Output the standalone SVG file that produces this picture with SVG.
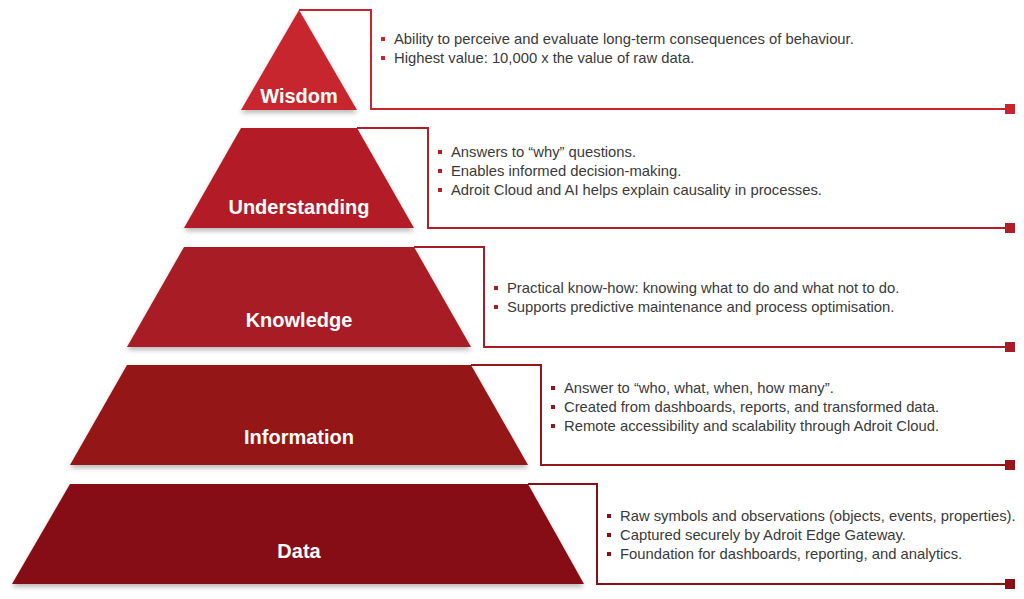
<svg xmlns="http://www.w3.org/2000/svg" width="1024" height="599" viewBox="0 0 1024 599">
<defs>
<filter id="sh" x="-10%" y="-10%" width="120%" height="130%">
<feDropShadow dx="0" dy="3" stdDeviation="2.5" flood-color="#000" flood-opacity="0.28"/>
</filter>
</defs>
<style>
.lbl{font-family:"Liberation Sans",Arial,sans-serif;font-weight:bold;font-size:20px;fill:#fff;text-anchor:middle}
.txt{font-family:"Liberation Sans",Arial,sans-serif;font-size:14.8px;fill:#3a3a3a}
.br{fill:none;stroke-width:2}
</style>
<rect width="1024" height="599" fill="#fff"/>
<g id="connectors">
<polyline class="br" stroke="#C8262F" points="299,10 371,10 371,109 1010,109"/>
<rect x="1005" y="104" width="10" height="10" fill="#C8262F"/>
<polyline class="br" stroke="#B31F27" points="357,128 428,128 428,228 1010,228"/>
<rect x="1005" y="223" width="10" height="10" fill="#B31F27"/>
<polyline class="br" stroke="#A81D25" points="414,247 484,247 484,347 1010,347"/>
<rect x="1005" y="342" width="10" height="10" fill="#A81D25"/>
<polyline class="br" stroke="#951719" points="471,365 541,365 541,465 1010,465"/>
<rect x="1005" y="460" width="10" height="10" fill="#951719"/>
<polyline class="br" stroke="#861015" points="528,484 597,484 597,584 1010,584"/>
<rect x="1005" y="579" width="10" height="10" fill="#861015"/>
</g>
<g id="wisdom">
<polygon points="299,10 357,110 241,110" fill="#C8262F" filter="url(#sh)"/>
<text class="lbl" x="299" y="103">Wisdom</text>
<g fill="#C8262F"><rect x="381" y="37" width="4" height="4"/><rect x="381" y="56" width="4" height="4"/></g>
<text class="txt" x="394" y="44">Ability to perceive and evaluate long-term consequences of behaviour.</text>
<text class="txt" x="394" y="63">Highest value: 10,000 x the value of raw data.</text>
</g>
<g id="understanding">
<polygon points="241,128 357,128 414,228 184,228" fill="#B31F27" filter="url(#sh)"/>
<text class="lbl" x="299" y="214">Understanding</text>
<g fill="#B31F27"><rect x="438" y="150" width="4" height="4"/><rect x="438" y="169" width="4" height="4"/><rect x="438" y="188" width="4" height="4"/></g>
<text class="txt" x="451" y="157">Answers to “why” questions.</text>
<text class="txt" x="451" y="176">Enables informed decision-making.</text>
<text class="txt" x="451" y="195">Adroit Cloud and AI helps explain causality in processes.</text>
</g>
<g id="knowledge">
<polygon points="184,247 414,247 471,347 127,347" fill="#A81D25" filter="url(#sh)"/>
<text class="lbl" x="299" y="327">Knowledge</text>
<g fill="#A81D25"><rect x="494" y="286" width="4" height="4"/><rect x="494" y="305" width="4" height="4"/></g>
<text class="txt" x="507" y="293">Practical know-how: knowing what to do and what not to do.</text>
<text class="txt" x="507" y="312">Supports predictive maintenance and process optimisation.</text>
</g>
<g id="information">
<polygon points="127,365 471,365 528,465 70,465" fill="#951719" filter="url(#sh)"/>
<text class="lbl" x="299" y="444">Information</text>
<g fill="#951719"><rect x="551" y="386" width="4" height="4"/><rect x="551" y="405" width="4" height="4"/><rect x="551" y="424" width="4" height="4"/></g>
<text class="txt" x="564" y="393">Answer to “who, what, when, how many”.</text>
<text class="txt" x="564" y="412">Created from dashboards, reports, and transformed data.</text>
<text class="txt" x="564" y="431">Remote accessibility and scalability through Adroit Cloud.</text>
</g>
<g id="data">
<polygon points="70,484 528,484 584,584 12,584" fill="#861015" filter="url(#sh)"/>
<text class="lbl" x="299" y="558">Data</text>
<g fill="#861015"><rect x="607" y="514" width="4" height="4"/><rect x="607" y="533" width="4" height="4"/><rect x="607" y="552" width="4" height="4"/></g>
<text class="txt" x="620" y="521">Raw symbols and observations (objects, events, properties).</text>
<text class="txt" x="620" y="540">Captured securely by Adroit Edge Gateway.</text>
<text class="txt" x="620" y="559">Foundation for dashboards, reporting, and analytics.</text>
</g>
</svg>
